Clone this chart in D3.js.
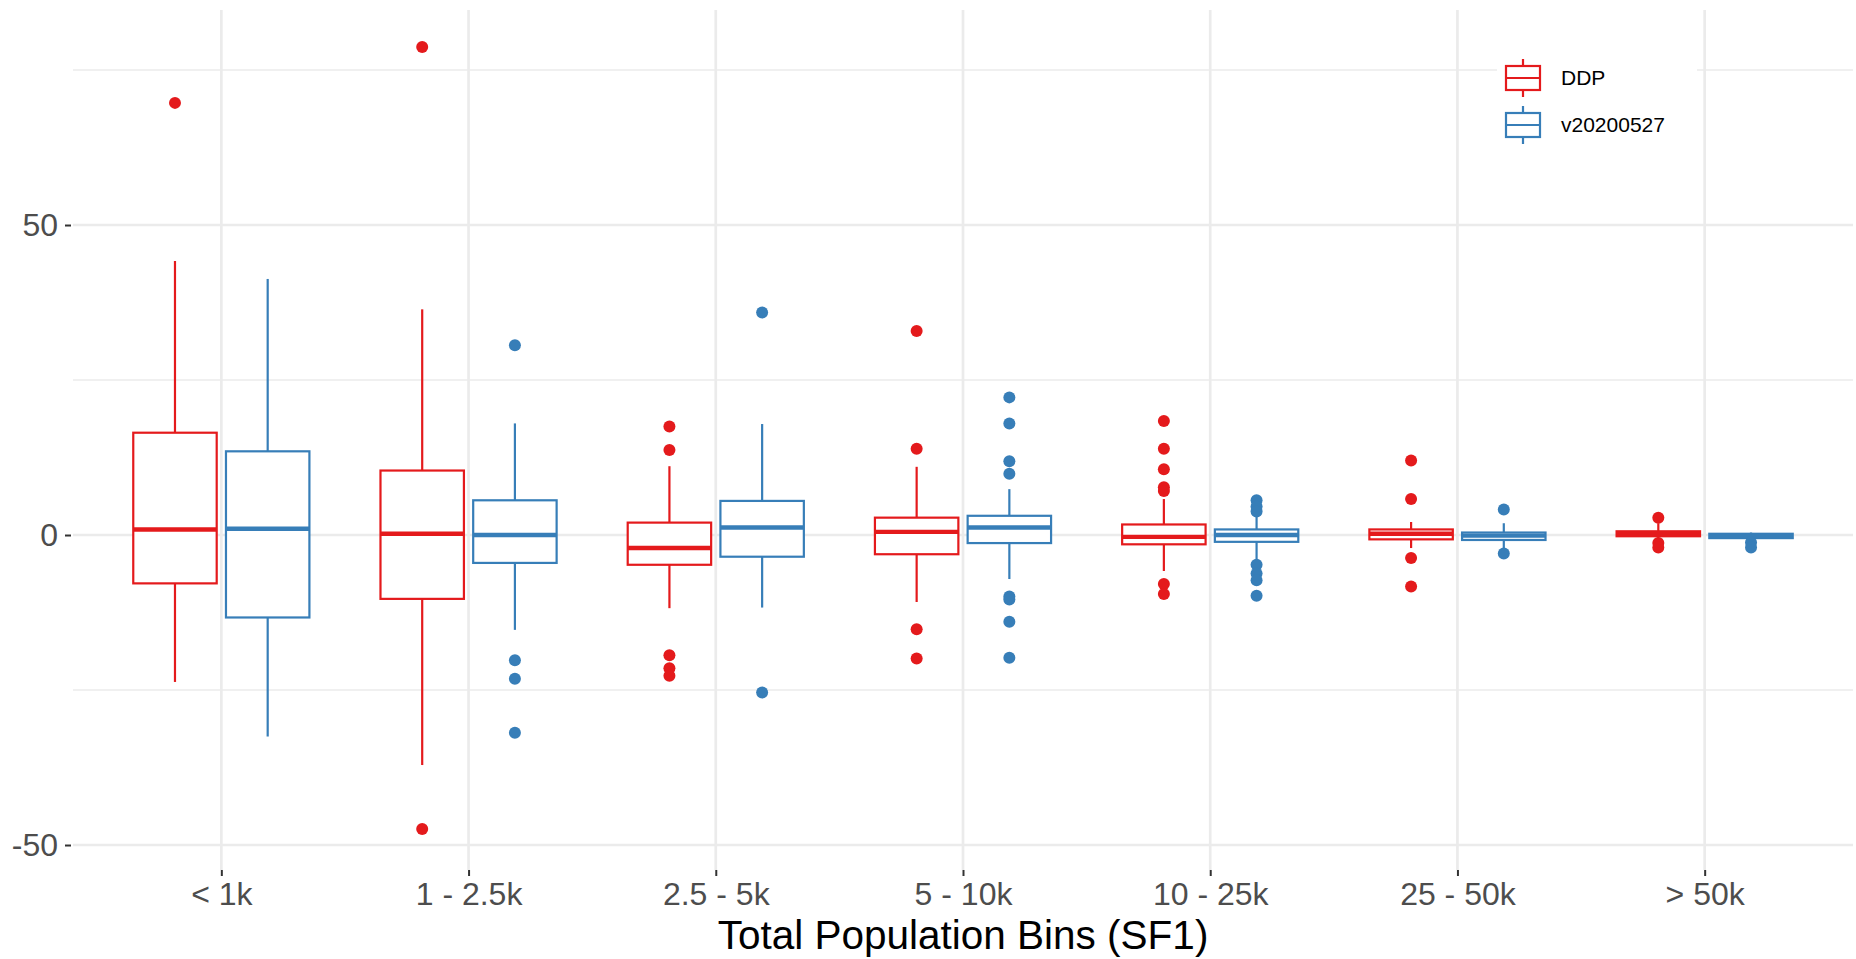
<!DOCTYPE html>
<html>
<head>
<meta charset="utf-8">
<title>Total Population Bins (SF1)</title>
<script src="https://cdn.jsdelivr.net/npm/d3@7"></script>
<style>
	html, body { margin: 0; padding: 0; background: #ffffff; }
	svg { display: block; font-family: "Liberation Sans", Arial, Helvetica, sans-serif; }
</style>
</head>
<body>
<svg id="chart" width="1856" height="959"></svg>
<script>
// Population bins on the x axis
const categories = ["< 1k", "1 - 2.5k", "2.5 - 5k", "5 - 10k", "10 - 25k", "25 - 50k", "> 50k"];

const seriesNames = ["DDP", "v20200527"];
const seriesColors = ["#e41a1c", "#377eb8"];

// DDP box statistics
const ddpLower = [-23.7, -37.1, -11.8, -10.8, -5.8, -2.1, -0.8];
const ddpQ1 = [-7.8, -10.3, -4.8, -3.1, -1.5, -0.7, -0.2];
const ddpMedian = [0.9, 0.2, -2.1, 0.5, -0.3, 0.2, 0.2];
const ddpQ3 = [16.5, 10.4, 2.0, 2.8, 1.7, 0.9, 0.6];
const ddpUpper = [44.2, 36.4, 11.1, 11.0, 5.8, 2.1, 1.9];
const ddpOutliers = [
	[69.7],
	[78.7, -47.4],
	[17.5, 13.7, -19.4, -21.5, -22.7],
	[32.9, 13.9, -15.2, -19.9],
	[18.4, 13.9, 10.6, 7.7, 7.1, -7.9, -9.5],
	[12.0, 5.8, -3.7, -8.3],
	[2.8, -1.3, -2.0],
];

// v20200527 box statistics
const vLower = [-32.5, -15.3, -11.7, -7.1, -4.0, -2.4, -0.9];
const vQ1 = [-13.3, -4.5, -3.5, -1.3, -1.1, -0.8, -0.5];
const vMedian = [1.0, 0.0, 1.2, 1.2, 0.0, -0.1, -0.15];
const vQ3 = [13.5, 5.6, 5.5, 3.1, 0.9, 0.4, 0.2];
const vUpper = [41.3, 18.0, 17.9, 7.4, 3.2, 1.9, 0.4];
const vOutliers = [
	[],
	[30.6, -20.2, -23.2, -31.9],
	[35.9, -25.4],
	[22.2, 18.0, 11.9, 9.9, -9.9, -10.4, -14.0, -19.8],
	[5.6, 4.6, 3.8, -4.8, -6.2, -7.3, -9.8],
	[4.1, -3.0],
	[-1.2, -2.0],
];

const yMajorTicks = [-50, 0, 50];
const yMinorTicks = [-25, 25, 75];

const xTitle = "Total Population Bins (SF1)";

function whenDocumentLoaded(action) {
	if (document.readyState === "loading") {
		document.addEventListener("DOMContentLoaded", action);
	} else {
		action();
	}
}

function buildBoxes() {
	const stats = [
		[ddpLower, ddpQ1, ddpMedian, ddpQ3, ddpUpper, ddpOutliers],
		[vLower, vQ1, vMedian, vQ3, vUpper, vOutliers],
	];
	const boxes = [];
	stats.forEach((s, si) => {
		categories.forEach((c, ci) => {
			boxes.push({
				category: c,
				series: seriesNames[si],
				color: seriesColors[si],
				lower: s[0][ci],
				q1: s[1][ci],
				median: s[2][ci],
				q3: s[3][ci],
				upper: s[4][ci],
				outliers: s[5][ci],
			});
		});
	});
	return boxes;
}

whenDocumentLoaded(() => {
	const svg = d3.select("#chart");
	const panel = { left: 73, right: 1853, top: 10, bottom: 870 };

	const x = d3.scalePoint().domain(categories).range([panel.left, panel.right]).padding(0.6);
	const step = x.step();
	// dodge inside each category (ggplot dodge2 with padding)
	const inner = d3.scaleBand().domain(seriesNames).range([-0.375 * step, 0.375 * step]);
	const boxWidth = inner.bandwidth() * 0.9;

	const y = d3.scaleLinear().domain([-54.03, 84.68]).range([panel.bottom, panel.top]);

	const grid = svg.append("g").attr("stroke", "#ebebeb").attr("fill", "none");

	grid.selectAll("line.minor")
		.data(yMinorTicks)
		.join("line")
		.attr("class", "minor")
		.attr("x1", panel.left)
		.attr("x2", panel.right)
		.attr("y1", (d) => y(d))
		.attr("y2", (d) => y(d))
		.attr("stroke-width", 1.4);

	grid.selectAll("line.major")
		.data(yMajorTicks)
		.join("line")
		.attr("class", "major")
		.attr("x1", panel.left)
		.attr("x2", panel.right)
		.attr("y1", (d) => y(d))
		.attr("y2", (d) => y(d))
		.attr("stroke-width", 2.7);

	grid.selectAll("line.vert")
		.data(categories)
		.join("line")
		.attr("class", "vert")
		.attr("x1", (d) => x(d))
		.attr("x2", (d) => x(d))
		.attr("y1", panel.top)
		.attr("y2", panel.bottom)
		.attr("stroke-width", 2.7);

	// Axes
	const yAxis = svg.append("g")
		.attr("transform", `translate(${panel.left - 2},0)`)
		.call(d3.axisLeft(y).tickValues(yMajorTicks).tickSize(6).tickPadding(7).tickFormat((d) => String(d)));
	yAxis.select(".domain").remove();
	yAxis.selectAll(".tick line").attr("stroke", "#333333").attr("stroke-width", 2);
	yAxis.selectAll(".tick text")
		.attr("fill", "#4d4d4d")
		.style("font-size", "32px");

	const xAxis = svg.append("g")
		.attr("transform", `translate(0,${panel.bottom})`)
		.call(d3.axisBottom(x).tickSize(6).tickPadding(6));
	xAxis.select(".domain").remove();
	xAxis.selectAll(".tick line").attr("stroke", "#333333").attr("stroke-width", 2);
	xAxis.selectAll(".tick text")
		.attr("fill", "#4d4d4d")
		.style("font-size", "32px");

	svg.append("text")
		.attr("x", (panel.left + panel.right) / 2)
		.attr("y", 948.5)
		.attr("text-anchor", "middle")
		.style("font-size", "40.5px")
		.attr("fill", "#000000")
		.text(xTitle);

	// Boxes
	const boxes = buildBoxes();
	const box = svg.append("g")
		.selectAll("g")
		.data(boxes)
		.join("g")
		.attr("transform", (d) => `translate(${x(d.category) + inner(d.series) + inner.bandwidth() / 2},0)`);

	box.append("line")
		.attr("y1", (d) => y(d.upper))
		.attr("y2", (d) => y(d.q3))
		.attr("stroke", (d) => d.color)
		.attr("stroke-width", 2.2);

	box.append("line")
		.attr("y1", (d) => y(d.q1))
		.attr("y2", (d) => y(d.lower))
		.attr("stroke", (d) => d.color)
		.attr("stroke-width", 2.2);

	box.append("rect")
		.attr("x", -boxWidth / 2)
		.attr("width", boxWidth)
		.attr("y", (d) => y(d.q3))
		.attr("height", (d) => y(d.q1) - y(d.q3))
		.attr("fill", "#ffffff")
		.attr("stroke", (d) => d.color)
		.attr("stroke-width", 2.2);

	box.append("line")
		.attr("x1", -boxWidth / 2)
		.attr("x2", boxWidth / 2)
		.attr("y1", (d) => y(d.median))
		.attr("y2", (d) => y(d.median))
		.attr("stroke", (d) => d.color)
		.attr("stroke-width", 4.4);

	box.selectAll("circle")
		.data((d) => d.outliers.map((v) => ({ v: v, color: d.color })))
		.join("circle")
		.attr("cx", 0)
		.attr("cy", (d) => y(d.v))
		.attr("r", 6)
		.attr("fill", (d) => d.color);

	// Legend
	const legend = svg.append("g").attr("transform", "translate(1497,50)");
	legend.append("rect")
		.attr("width", 200)
		.attr("height", 102)
		.attr("fill", "#ffffff");

	const key = legend.selectAll("g.key")
		.data(seriesNames)
		.join("g")
		.attr("class", "key")
		.attr("transform", (d, i) => `translate(8,${9 + i * 47})`);

	key.append("line")
		.attr("x1", 18)
		.attr("x2", 18)
		.attr("y1", 0)
		.attr("y2", 38)
		.attr("stroke", (d, i) => seriesColors[i])
		.attr("stroke-width", 2.2);

	key.append("rect")
		.attr("x", 1)
		.attr("y", 7)
		.attr("width", 34)
		.attr("height", 24)
		.attr("fill", "#ffffff")
		.attr("stroke", (d, i) => seriesColors[i])
		.attr("stroke-width", 2.2);

	key.append("line")
		.attr("x1", 1)
		.attr("x2", 35)
		.attr("y1", 19)
		.attr("y2", 19)
		.attr("stroke", (d, i) => seriesColors[i])
		.attr("stroke-width", 2.2);

	key.append("text")
		.attr("x", 56)
		.attr("y", 19)
		.attr("dy", "0.35em")
		.style("font-size", "21px")
		.attr("fill", "#000000")
		.text((d) => d);
});
</script>
</body>
</html>
